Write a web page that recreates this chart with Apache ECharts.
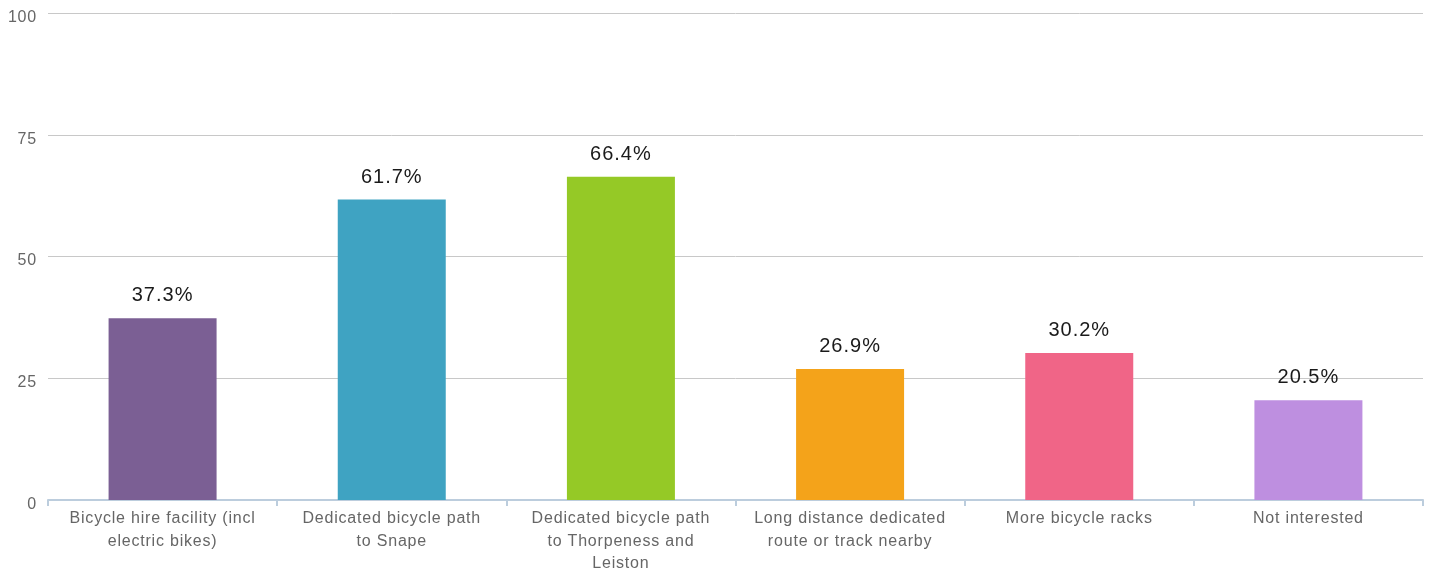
<!DOCTYPE html>
<html><head><meta charset="utf-8">
<script src="https://cdn.jsdelivr.net/npm/echarts@6/dist/echarts.min.js"></script>
<style>html,body{margin:0;padding:0;background:#fff}#c{width:1433px;height:575px}</style>
</head><body><div id="c"></div>
<script>
const categories = ["Bicycle hire facility (incl\nelectric bikes)", "Dedicated bicycle path\nto Snape", "Dedicated bicycle path\nto Thorpeness and\nLeiston", "Long distance dedicated\nroute or track nearby", "More bicycle racks", "Not interested"];
const values = [37.3, 61.7, 66.4, 26.9, 30.2, 20.5];
const colors = ["#7b5f94", "#3fa3c2", "#95c926", "#f4a31a", "#f06587", "#be8fe0"];
const yTicks = [0, 25, 50, 75, 100];

// slight letter spacing, like the reference's text rendering
(function () {
  const P = CanvasRenderingContext2D.prototype;
  if (!('letterSpacing' in P)) return;
  const setLS = ctx => {
    const m = /(\d+(?:\.\d+)?)px/.exec(ctx.font || '');
    const fs = m ? parseFloat(m[1]) : 12;
    ctx.letterSpacing = (fs * 0.05).toFixed(2) + 'px';
  };
  const ft = P.fillText, mt = P.measureText;
  P.fillText = function () { setLS(this); return ft.apply(this, arguments); };
  P.measureText = function () { setLS(this); return mt.apply(this, arguments); };
})();

const FONT = 'Liberation Sans';
const chart = echarts.init(document.getElementById('c'));
chart.setOption({
  animation: false,
  grid: {left: 48, right: 10, top: 13, bottom: 72, containLabel: false},
  xAxis: {
    type: 'category', data: categories,
    axisLine: {lineStyle: {color: '#bccddd', width: 2}},
    axisTick: {show: true, length: 6, lineStyle: {color: '#bccddd', width: 2}},
    axisLabel: {color: '#666', fontFamily: FONT, fontSize: 16, lineHeight: 22.5, margin: 7.5, interval: 0}
  },
  yAxis: {
    type: 'value', min: 0, max: 100, interval: 25,
    axisLine: {show: false}, axisTick: {show: false},
    splitLine: {lineStyle: {color: '#c8c8c8', width: 1}},
    axisLabel: {color: '#666', fontFamily: FONT, fontSize: 16, margin: 11, verticalAlign: 'top', lineHeight: 9,
      formatter: v => yTicks.includes(v) ? String(v) : ''}
  },
  series: [{
    type: 'bar', barWidth: 108,
    data: values.map((v, i) => ({value: v, itemStyle: {color: colors[i]}})),
    label: {show: true, position: 'top', distance: 12, color: '#1a1a1a', fontFamily: FONT, fontSize: 20,
      formatter: p => p.value.toFixed(1) + '%'}
  }]
});
</script></body></html>
